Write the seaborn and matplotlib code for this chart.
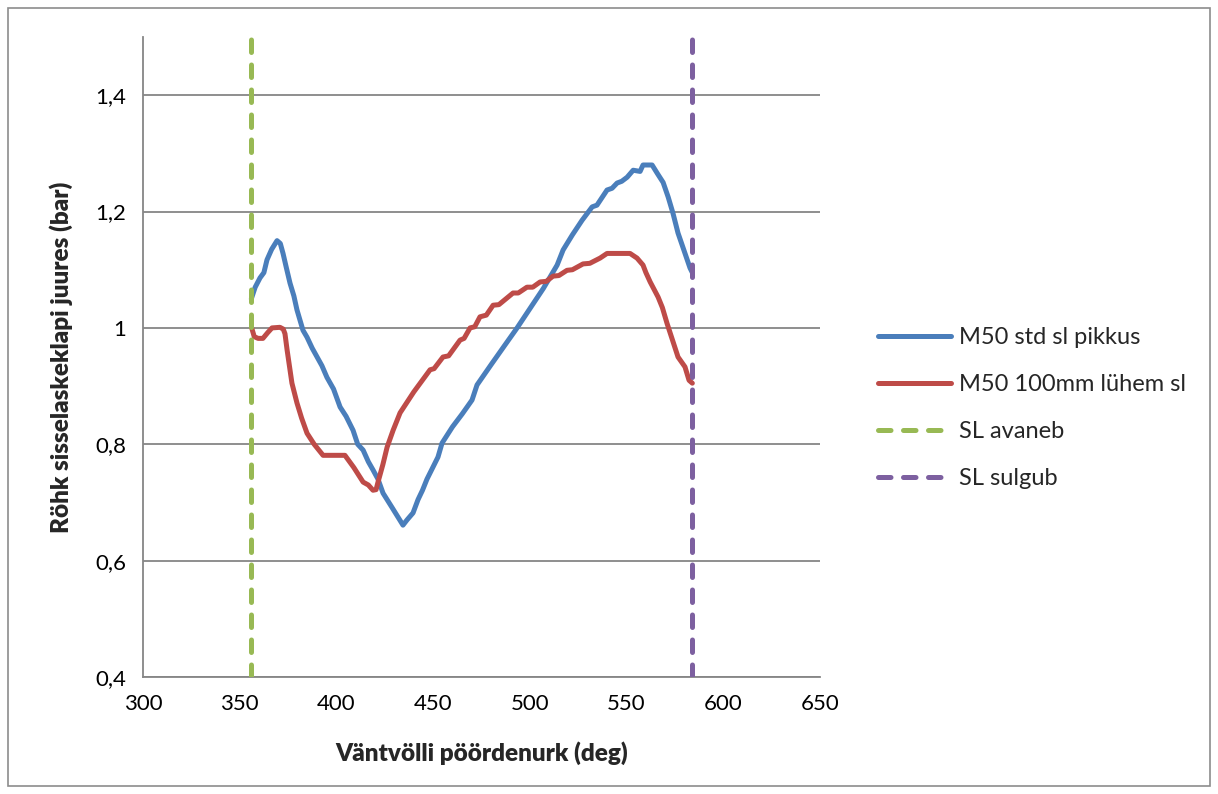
import numpy as np
import pandas as pd
import matplotlib
matplotlib.use("Agg")
import matplotlib.pyplot as plt
import matplotlib.patches as mpatches
from matplotlib.ticker import FuncFormatter
import seaborn as sns

# Crank angle (deg) and intake pressure (bar), standard intake length
angle_std = [356.0, 358.0, 360.5, 362.5, 364.1, 366.5, 369.3, 371.0, 372.4, 374.0, 376.0,
             378.0, 379.6, 382.7, 384.8, 387.5, 390.0, 392.5, 395.1, 398.5, 401.9,
             405.0, 408.6, 411.0, 413.8, 416.5, 418.9, 421.5, 424.1, 429.0, 434.4,
             436.5, 439.6, 442.2, 444.5, 446.8, 452.5, 454.6, 460.0, 465.0, 470.1,
             472.7, 480.0, 487.0, 493.4, 500.0, 507.0, 514.1, 517.2, 522.0, 527.0,
             532.2, 534.7, 539.9, 542.5, 545.1, 547.5, 550.3, 553.4, 557.0, 558.5,
             563.2, 566.0, 568.9, 571.5, 574.0, 576.6, 579.5, 582.8, 584.0]
p_std = [1.050, 1.070, 1.086, 1.095, 1.117, 1.135, 1.150, 1.145, 1.128, 1.105, 1.077,
         1.055, 1.031, 0.996, 0.984, 0.965, 0.950, 0.935, 0.915, 0.895, 0.864,
         0.848, 0.824, 0.800, 0.790, 0.770, 0.756, 0.740, 0.716, 0.690, 0.661,
         0.670, 0.682, 0.705, 0.721, 0.740, 0.778, 0.802, 0.830, 0.852, 0.876,
         0.902, 0.937, 0.970, 1.000, 1.033, 1.068, 1.108, 1.134, 1.160, 1.185,
         1.208, 1.211, 1.237, 1.240, 1.249, 1.252, 1.259, 1.271, 1.269, 1.280,
         1.280, 1.265, 1.250, 1.225, 1.197, 1.163, 1.135, 1.103, 1.095]

# Crank angle (deg) and intake pressure (bar), intake 100 mm shorter
angle_short = [356.2, 357.5, 359.5, 362.0, 364.5, 366.7, 370.8, 372.5, 373.4, 374.5,
               377.0, 379.6, 382.0, 384.8, 388.5, 393.1, 404.4, 409.0, 413.8, 416.5,
               418.9, 420.5, 421.5, 424.0, 426.2, 429.3, 432.9, 440.0, 448.4, 450.5,
               455.1, 458.0, 463.9, 466.0, 469.1, 471.5, 474.2, 477.5, 481.0, 484.0,
               491.3, 494.0, 498.5, 501.5, 505.3, 508.5, 512.0, 515.0, 519.2, 522.0,
               527.5, 531.0, 536.3, 539.9, 551.8, 555.4, 558.5, 560.0, 562.2, 566.3,
               568.5, 570.9, 576.6, 580.2, 582.3, 584.0]
p_short = [1.000, 0.985, 0.982, 0.982, 0.992, 1.000, 1.001, 0.998, 0.990, 0.962,
           0.905, 0.871, 0.845, 0.819, 0.800, 0.781, 0.781, 0.760, 0.735, 0.730,
           0.721, 0.722, 0.735, 0.765, 0.795, 0.824, 0.854, 0.890, 0.928, 0.930,
           0.950, 0.952, 0.979, 0.982, 1.000, 1.002, 1.019, 1.022, 1.039, 1.040,
           1.060, 1.060, 1.070, 1.070, 1.079, 1.080, 1.089, 1.090, 1.099, 1.100,
           1.110, 1.111, 1.120, 1.128, 1.128, 1.120, 1.108, 1.095, 1.079, 1.053,
           1.035, 1.008, 0.950, 0.933, 0.910, 0.905]

series_names = ["M50 std sl pikkus", "M50 100mm lühem sl"]
valve_events = ["SL avaneb", "SL sulgub"]
valve_angles = [356, 584]

x_ticks = [300, 350, 400, 450, 500, 550, 600, 650]
y_ticks = [0.4, 0.6, 0.8, 1.0, 1.2, 1.4]

line_colors = ["#4A7EBB", "#BE4B48"]
event_colors = ["#98B954", "#7D60A0"]

df = pd.concat([
    pd.DataFrame({"angle": angle_std, "p": p_std, "series": series_names[0]}),
    pd.DataFrame({"angle": angle_short, "p": p_short, "series": series_names[1]}),
], ignore_index=True)

sns.set_theme(style="white")
plt.rcParams["font.family"] = ["Lato", "DejaVu Sans"]

fig = plt.figure(figsize=(12.18, 7.94), dpi=100)
ax = fig.add_axes([143 / 1218, 1 - 677 / 794, (820 - 143) / 1218, (677 - 37) / 794])

# chart-area frame
fig.patches.append(mpatches.Rectangle((8 / 1218, 8 / 794), 1 - 16 / 1218, 1 - 16 / 794,
                                      transform=fig.transFigure, fill=False,
                                      edgecolor="#8C8C8C", linewidth=1.2))

for y in y_ticks:
    ax.axhline(y, color="#868686", linewidth=1.3, zorder=0)

LW = 3.6
sns.lineplot(data=df, x="angle", y="p", hue="series", palette=line_colors,
             linewidth=LW, sort=False, estimator=None, ax=ax, legend=False)
for line in ax.get_lines()[-2:]:
    line.set_solid_capstyle("round")
    line.set_solid_joinstyle("round")

handles = []
for name, col in zip(series_names, line_colors):
    handles.append(plt.Line2D([], [], color=col, linewidth=LW, solid_capstyle="round", label=name))

for name, xv, col in zip(valve_events, valve_angles, event_colors):
    ax.axvline(xv, color=col, linewidth=LW, linestyle=(0, (2.5, 2.5)),
               dash_capstyle="round", zorder=3)
    handles.append(plt.Line2D([], [], color=col, linewidth=LW, linestyle=(0, (2.5, 2.5)),
                              dash_capstyle="round", label=name))

ax.set_xlim(300, 650)
ax.set_ylim(0.4, 1.5)
ax.set_xticks(x_ticks)
ax.set_yticks(y_ticks)
ax.yaxis.set_major_formatter(FuncFormatter(lambda v, _: (f"{v:.1f}".rstrip("0").rstrip(".")).replace(".", ",")))

for side in ["top", "right"]:
    ax.spines[side].set_visible(False)
for side in ["left", "bottom"]:
    ax.spines[side].set_color("#868686")
    ax.spines[side].set_linewidth(1.3)
ax.tick_params(axis="both", which="major", direction="out", length=6, width=1.3,
               color="#868686", labelsize=16, labelcolor="black", pad=6)

ax.set_xlabel("Väntvölli pöördenurk (deg)", fontsize=17.5, fontweight="heavy", labelpad=20)
ax.set_ylabel("Röhk sisselaskeklapi juures (bar)", fontsize=17.5, fontweight="heavy", labelpad=16)

ax.legend(handles=handles, loc="center left", bbox_to_anchor=(1.054, 0.42),
          frameon=False, fontsize=17, handlelength=3.1, labelspacing=1.1, handletextpad=0.35)

fig.savefig("out.png", dpi=100)
